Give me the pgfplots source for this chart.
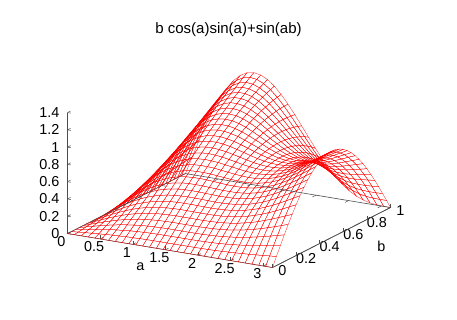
\documentclass[border=0pt]{standalone}
\usepackage{fontspec}
\setmainfont{Liberation Sans}
\usepackage{pgfplots}
\pgfplotsset{compat=1.18}
\begin{document}
\begin{tikzpicture}[x=1pt,y=1pt]
\path[use as bounding box] (47,-7) rectangle +(457,320);
\node[font=\fontsize{15}{16}\selectfont] at (275.5,283) {b cos(a)sin(a)+sin(ab)};
\begin{axis}[at={(29,81)},anchor=south west,
 x={(65.25pt,-10.82pt)},y={(118pt,60pt)},z={(0pt,86.4pt)},
 xmin=0,xmax=3.14159,ymin=0,ymax=1,zmin=0,zmax=1.4,
 clip=false,
 axis x line*=bottom,axis y line*=left,axis z line*=left,
 axis line style={-,black!70!white,line width=0.6pt},
 tick style={black!70!white,line width=0.5pt},
 major tick length=3.5pt,
 xtick={0,0.5,1,1.5,2,2.5,3},
 ytick={0,0.2,0.4,0.6,0.8,1},
 ztick={0,0.2,0.4,0.6,0.8,1,1.2,1.4},
 xticklabels={0,0.5,1,1.5,2,2.5,3},
 yticklabels={0,0.2,0.4,0.6,0.8,1},
 zticklabels={0,0.2,0.4,0.6,0.8,1,1.2,1.4},
 ticklabel style={font=\fontsize{14.4}{16}\selectfont,inner sep=0pt,outer sep=0pt},
 xticklabel style={anchor=center,xshift=-6pt,yshift=-8pt},
 yticklabel style={anchor=center,xshift=10pt,yshift=-3pt},
 zticklabel style={anchor=east,xshift=-8pt},
 xlabel={a},ylabel={b},
 xlabel style={at={(axis cs:1.594,-.263,0)},anchor=center,font=\fontsize{14.4}{16}\selectfont,inner sep=0pt,sloped=false},
 ylabel style={at={(axis cs:3.924,.491,0)},anchor=center,font=\fontsize{14.4}{16}\selectfont,inner sep=0pt,sloped=false},
 /pgf/number format/assume math mode=true,
 colormap={allred}{color=(red) color=(red)},
]
\addplot3[mesh,mesh/rows=31,mesh/cols=31,mesh/ordering=y varies,line width=0.25pt] table {
0 0 0
0 .033 0
0 .067 0
0 .1 0
0 .133 0
0 .167 0
0 .2 0
0 .233 0
0 .267 0
0 .3 0
0 .333 0
0 .367 0
0 .4 0
0 .433 0
0 .467 0
0 .5 0
0 .533 0
0 .567 0
0 .6 0
0 .633 0
0 .667 0
0 .7 0
0 .733 0
0 .767 0
0 .8 0
0 .833 0
0 .867 0
0 .9 0
0 .933 0
0 .967 0
0 1 0
.105 0 0
.105 .033 .007
.105 .067 .014
.105 .1 .021
.105 .133 .028
.105 .167 .035
.105 .2 .042
.105 .233 .049
.105 .267 .056
.105 .3 .063
.105 .333 .069
.105 .367 .076
.105 .4 .083
.105 .433 .09
.105 .467 .097
.105 .5 .104
.105 .533 .111
.105 .567 .118
.105 .6 .125
.105 .633 .132
.105 .667 .139
.105 .7 .146
.105 .733 .153
.105 .767 .16
.105 .8 .167
.105 .833 .174
.105 .867 .181
.105 .9 .188
.105 .933 .195
.105 .967 .201
.105 1 .208
.209 0 0
.209 .033 .014
.209 .067 .028
.209 .1 .041
.209 .133 .055
.209 .167 .069
.209 .2 .083
.209 .233 .096
.209 .267 .11
.209 .3 .124
.209 .333 .138
.209 .367 .151
.209 .4 .165
.209 .433 .179
.209 .467 .193
.209 .5 .206
.209 .533 .22
.209 .567 .234
.209 .6 .247
.209 .633 .261
.209 .667 .275
.209 .7 .289
.209 .733 .302
.209 .767 .316
.209 .8 .33
.209 .833 .343
.209 .867 .357
.209 .9 .37
.209 .933 .384
.209 .967 .398
.209 1 .411
.314 0 0
.314 .033 .02
.314 .067 .04
.314 .1 .061
.314 .133 .081
.314 .167 .101
.314 .2 .122
.314 .233 .142
.314 .267 .162
.314 .3 .182
.314 .333 .202
.314 .367 .223
.314 .4 .243
.314 .433 .263
.314 .467 .283
.314 .5 .303
.314 .533 .323
.314 .567 .344
.314 .6 .364
.314 .633 .384
.314 .667 .404
.314 .7 .424
.314 .733 .444
.314 .767 .464
.314 .8 .484
.314 .833 .504
.314 .867 .524
.314 .9 .544
.314 .933 .563
.314 .967 .583
.314 1 .603
.419 0 0
.419 .033 .026
.419 .067 .053
.419 .1 .079
.419 .133 .105
.419 .167 .132
.419 .2 .158
.419 .233 .184
.419 .267 .211
.419 .3 .237
.419 .333 .263
.419 .367 .289
.419 .4 .315
.419 .433 .342
.419 .467 .368
.419 .5 .394
.419 .533 .42
.419 .567 .446
.419 .6 .472
.419 .633 .498
.419 .667 .523
.419 .7 .549
.419 .733 .575
.419 .767 .601
.419 .8 .626
.419 .833 .652
.419 .867 .677
.419 .9 .703
.419 .933 .728
.419 .967 .753
.419 1 .778
.524 0 0
.524 .033 .032
.524 .067 .064
.524 .1 .096
.524 .133 .128
.524 .167 .159
.524 .2 .191
.524 .233 .223
.524 .267 .255
.524 .3 .286
.524 .333 .318
.524 .367 .35
.524 .4 .381
.524 .433 .413
.524 .467 .444
.524 .5 .475
.524 .533 .507
.524 .567 .538
.524 .6 .569
.524 .633 .6
.524 .667 .631
.524 .7 .661
.524 .733 .692
.524 .767 .723
.524 .8 .753
.524 .833 .783
.524 .867 .814
.524 .9 .844
.524 .933 .874
.524 .967 .903
.524 1 .933
.628 0 0
.628 .033 .037
.628 .067 .074
.628 .1 .11
.628 .133 .147
.628 .167 .184
.628 .2 .22
.628 .233 .257
.628 .267 .294
.628 .3 .33
.628 .333 .366
.628 .367 .403
.628 .4 .439
.628 .433 .475
.628 .467 .511
.628 .5 .547
.628 .533 .583
.628 .567 .618
.628 .6 .653
.628 .633 .689
.628 .667 .724
.628 .7 .759
.628 .733 .793
.628 .767 .828
.628 .8 .862
.628 .833 .896
.628 .867 .93
.628 .9 .964
.628 .933 .997
.628 .967 1.03
.628 1 1.063
.733 0 0
.733 .033 .041
.733 .067 .082
.733 .1 .123
.733 .133 .164
.733 .167 .205
.733 .2 .246
.733 .233 .286
.733 .267 .327
.733 .3 .367
.733 .333 .408
.733 .367 .448
.733 .4 .488
.733 .433 .528
.733 .467 .568
.733 .5 .607
.733 .533 .646
.733 .567 .685
.733 .6 .724
.733 .633 .763
.733 .667 .801
.733 .7 .839
.733 .733 .877
.733 .767 .914
.733 .8 .951
.733 .833 .988
.733 .867 1.024
.733 .9 1.061
.733 .933 1.096
.733 .967 1.132
.733 1 1.166
.838 0 0
.838 .033 .045
.838 .067 .089
.838 .1 .133
.838 .133 .178
.838 .167 .222
.838 .2 .266
.838 .233 .31
.838 .267 .354
.838 .3 .398
.838 .333 .441
.838 .367 .485
.838 .4 .528
.838 .433 .571
.838 .467 .613
.838 .5 .655
.838 .533 .698
.838 .567 .739
.838 .6 .78
.838 .633 .821
.838 .667 .861
.838 .7 .901
.838 .733 .941
.838 .767 .98
.838 .8 1.019
.838 .833 1.057
.838 .867 1.095
.838 .9 1.132
.838 .933 1.169
.838 .967 1.205
.838 1 1.24
.942 0 0
.942 .033 .047
.942 .067 .095
.942 .1 .142
.942 .133 .189
.942 .167 .236
.942 .2 .283
.942 .233 .329
.942 .267 .376
.942 .3 .422
.942 .333 .468
.942 .367 .513
.942 .4 .558
.942 .433 .603
.942 .467 .648
.942 .5 .692
.942 .533 .735
.942 .567 .779
.942 .6 .821
.942 .633 .863
.942 .667 .905
.942 .7 .946
.942 .733 .986
.942 .767 1.026
.942 .8 1.065
.942 .833 1.103
.942 .867 1.141
.942 .9 1.178
.942 .933 1.214
.942 .967 1.25
.942 1 1.285
1.047 0 0
1.047 .033 .049
1.047 .067 .099
1.047 .1 .148
1.047 .133 .197
1.047 .167 .246
1.047 .2 .294
1.047 .233 .343
1.047 .267 .391
1.047 .3 .439
1.047 .333 .486
1.047 .367 .533
1.047 .4 .58
1.047 .433 .626
1.047 .467 .672
1.047 .5 .717
1.047 .533 .761
1.047 .567 .805
1.047 .6 .848
1.047 .633 .89
1.047 .667 .932
1.047 .7 .972
1.047 .733 1.012
1.047 .767 1.051
1.047 .8 1.09
1.047 .833 1.127
1.047 .867 1.163
1.047 .9 1.199
1.047 .933 1.233
1.047 .967 1.267
1.047 1 1.299
1.152 0 0
1.152 .033 .051
1.152 .067 .102
1.152 .1 .152
1.152 .133 .203
1.152 .167 .253
1.152 .2 .303
1.152 .233 .352
1.152 .267 .402
1.152 .3 .45
1.152 .333 .499
1.152 .367 .546
1.152 .4 .593
1.152 .433 .64
1.152 .467 .685
1.152 .5 .73
1.152 .533 .775
1.152 .567 .818
1.152 .6 .86
1.152 .633 .902
1.152 .667 .942
1.152 .7 .982
1.152 .733 1.02
1.152 .767 1.058
1.152 .8 1.094
1.152 .833 1.129
1.152 .867 1.163
1.152 .9 1.195
1.152 .933 1.226
1.152 .967 1.257
1.152 1 1.285
1.257 0 0
1.257 .033 .052
1.257 .067 .103
1.257 .1 .155
1.257 .133 .206
1.257 .167 .257
1.257 .2 .308
1.257 .233 .358
1.257 .267 .407
1.257 .3 .456
1.257 .333 .505
1.257 .367 .552
1.257 .4 .599
1.257 .433 .645
1.257 .467 .691
1.257 .5 .735
1.257 .533 .778
1.257 .567 .82
1.257 .6 .861
1.257 .633 .901
1.257 .667 .939
1.257 .7 .976
1.257 .733 1.012
1.257 .767 1.046
1.257 .8 1.079
1.257 .833 1.111
1.257 .867 1.141
1.257 .9 1.169
1.257 .933 1.196
1.257 .967 1.221
1.257 1 1.245
1.361 0 0
1.361 .033 .052
1.361 .067 .104
1.361 .1 .156
1.361 .133 .208
1.361 .167 .259
1.361 .2 .31
1.361 .233 .36
1.361 .267 .409
1.361 .3 .458
1.361 .333 .506
1.361 .367 .553
1.361 .4 .599
1.361 .433 .644
1.361 .467 .688
1.361 .5 .731
1.361 .533 .772
1.361 .567 .813
1.361 .6 .851
1.361 .633 .888
1.361 .667 .924
1.361 .7 .958
1.361 .733 .99
1.361 .767 1.02
1.361 .8 1.049
1.361 .833 1.076
1.361 .867 1.101
1.361 .9 1.124
1.361 .933 1.145
1.361 .967 1.164
1.361 1 1.182
1.466 0 0
1.466 .033 .052
1.466 .067 .105
1.466 .1 .157
1.466 .133 .208
1.466 .167 .259
1.466 .2 .31
1.466 .233 .36
1.466 .267 .409
1.466 .3 .457
1.466 .333 .504
1.466 .367 .55
1.466 .4 .595
1.466 .433 .639
1.466 .467 .681
1.466 .5 .721
1.466 .533 .76
1.466 .567 .797
1.466 .6 .833
1.466 .633 .867
1.466 .667 .898
1.466 .7 .928
1.466 .733 .956
1.466 .767 .982
1.466 .8 1.005
1.466 .833 1.026
1.466 .867 1.045
1.466 .9 1.062
1.466 .933 1.077
1.466 .967 1.089
1.466 1 1.099
1.571 0 0
1.571 .033 .052
1.571 .067 .105
1.571 .1 .156
1.571 .133 .208
1.571 .167 .259
1.571 .2 .309
1.571 .233 .358
1.571 .267 .407
1.571 .3 .454
1.571 .333 .5
1.571 .367 .545
1.571 .4 .588
1.571 .433 .629
1.571 .467 .669
1.571 .5 .707
1.571 .533 .743
1.571 .567 .777
1.571 .6 .809
1.571 .633 .839
1.571 .667 .866
1.571 .7 .891
1.571 .733 .914
1.571 .767 .934
1.571 .8 .951
1.571 .833 .966
1.571 .867 .978
1.571 .9 .988
1.571 .933 .995
1.571 .967 .999
1.571 1 1
1.676 0 0
1.676 .033 .052
1.676 .067 .105
1.676 .1 .156
1.676 .133 .208
1.676 .167 .258
1.676 .2 .308
1.676 .233 .357
1.676 .267 .404
1.676 .3 .451
1.676 .333 .495
1.676 .367 .538
1.676 .4 .58
1.676 .433 .619
1.676 .467 .656
1.676 .5 .691
1.676 .533 .724
1.676 .567 .754
1.676 .6 .782
1.676 .633 .807
1.676 .667 .83
1.676 .7 .849
1.676 .733 .866
1.676 .767 .88
1.676 .8 .89
1.676 .833 .898
1.676 .867 .903
1.676 .9 .904
1.676 .933 .903
1.676 .967 .898
1.676 1 .891
1.78 0 0
1.78 .033 .053
1.78 .067 .105
1.78 .1 .157
1.78 .133 .208
1.78 .167 .259
1.78 .2 .308
1.78 .233 .356
1.78 .267 .403
1.78 .3 .448
1.78 .333 .491
1.78 .367 .533
1.78 .4 .572
1.78 .433 .609
1.78 .467 .644
1.78 .5 .675
1.78 .533 .705
1.78 .567 .731
1.78 .6 .754
1.78 .633 .775
1.78 .667 .792
1.78 .7 .805
1.78 .733 .816
1.78 .767 .823
1.78 .8 .827
1.78 .833 .827
1.78 .867 .823
1.78 .9 .816
1.78 .933 .806
1.78 .967 .792
1.78 1 .775
1.885 0 0
1.885 .033 .053
1.885 .067 .106
1.885 .1 .158
1.885 .133 .21
1.885 .167 .26
1.885 .2 .309
1.885 .233 .357
1.885 .267 .403
1.885 .3 .448
1.885 .333 .49
1.885 .367 .53
1.885 .4 .567
1.885 .433 .602
1.885 .467 .633
1.885 .5 .662
1.885 .533 .688
1.885 .567 .71
1.885 .6 .729
1.885 .633 .744
1.885 .667 .755
1.885 .7 .763
1.885 .733 .767
1.885 .767 .767
1.885 .8 .763
1.885 .833 .755
1.885 .867 .743
1.885 .9 .728
1.885 .933 .708
1.885 .967 .685
1.885 1 .657
1.99 0 0
1.99 .033 .054
1.99 .067 .108
1.99 .1 .161
1.99 .133 .213
1.99 .167 .264
1.99 .2 .313
1.99 .233 .361
1.99 .267 .407
1.99 .3 .451
1.99 .333 .492
1.99 .367 .53
1.99 .4 .566
1.99 .433 .598
1.99 .467 .627
1.99 .5 .653
1.99 .533 .675
1.99 .567 .693
1.99 .6 .707
1.99 .633 .717
1.99 .667 .723
1.99 .7 .724
1.99 .733 .721
1.99 .767 .714
1.99 .8 .703
1.99 .833 .687
1.99 .867 .666
1.99 .9 .641
1.99 .933 .613
1.99 .967 .579
1.99 1 .542
2.094 0 0
2.094 .033 .055
2.094 .067 .11
2.094 .1 .165
2.094 .133 .218
2.094 .167 .27
2.094 .2 .32
2.094 .233 .369
2.094 .267 .414
2.094 .3 .458
2.094 .333 .499
2.094 .367 .536
2.094 .4 .57
2.094 .433 .6
2.094 .467 .627
2.094 .5 .65
2.094 .533 .668
2.094 .567 .682
2.094 .6 .691
2.094 .633 .696
2.094 .667 .696
2.094 .7 .691
2.094 .733 .682
2.094 .767 .667
2.094 .8 .648
2.094 .833 .624
2.094 .867 .595
2.094 .9 .561
2.094 .933 .523
2.094 .967 .48
2.094 1 .433
2.199 0 0
2.199 .033 .057
2.199 .067 .114
2.199 .1 .171
2.199 .133 .226
2.199 .167 .279
2.199 .2 .331
2.199 .233 .38
2.199 .267 .427
2.199 .3 .47
2.199 .333 .511
2.199 .367 .547
2.199 .4 .58
2.199 .433 .609
2.199 .467 .634
2.199 .5 .653
2.199 .533 .668
2.199 .567 .678
2.199 .6 .683
2.199 .633 .683
2.199 .667 .678
2.199 .7 .667
2.199 .733 .65
2.199 .767 .629
2.199 .8 .602
2.199 .833 .57
2.199 .867 .532
2.199 .9 .49
2.199 .933 .442
2.199 .967 .39
2.199 1 .334
2.304 0 0
2.304 .033 .06
2.304 .067 .12
2.304 .1 .179
2.304 .133 .236
2.304 .167 .292
2.304 .2 .345
2.304 .233 .396
2.304 .267 .444
2.304 .3 .488
2.304 .333 .529
2.304 .367 .566
2.304 .4 .598
2.304 .433 .625
2.304 .467 .648
2.304 .5 .665
2.304 .533 .677
2.304 .567 .683
2.304 .6 .684
2.304 .633 .679
2.304 .667 .668
2.304 .7 .651
2.304 .733 .628
2.304 .767 .6
2.304 .8 .565
2.304 .833 .525
2.304 .867 .48
2.304 .9 .429
2.304 .933 .373
2.304 .967 .312
2.304 1 .246
2.409 0 0
2.409 .033 .064
2.409 .067 .127
2.409 .1 .189
2.409 .133 .249
2.409 .167 .308
2.409 .2 .364
2.409 .233 .417
2.409 .267 .466
2.409 .3 .512
2.409 .333 .554
2.409 .367 .59
2.409 .4 .622
2.409 .433 .649
2.409 .467 .67
2.409 .5 .685
2.409 .533 .694
2.409 .567 .697
2.409 .6 .694
2.409 .633 .684
2.409 .667 .668
2.409 .7 .645
2.409 .733 .616
2.409 .767 .581
2.409 .8 .54
2.409 .833 .492
2.409 .867 .439
2.409 .9 .38
2.409 .933 .315
2.409 .967 .246
2.409 1 .172
2.513 0 0
2.513 .033 .068
2.513 .067 .135
2.513 .1 .201
2.513 .133 .266
2.513 .167 .327
2.513 .2 .387
2.513 .233 .442
2.513 .267 .494
2.513 .3 .542
2.513 .333 .585
2.513 .367 .622
2.513 .4 .654
2.513 .433 .68
2.513 .467 .7
2.513 .5 .713
2.513 .533 .72
2.513 .567 .72
2.513 .6 .713
2.513 .633 .699
2.513 .667 .678
2.513 .7 .649
2.513 .733 .614
2.513 .767 .573
2.513 .8 .524
2.513 .833 .47
2.513 .867 .409
2.513 .9 .343
2.513 .933 .271
2.513 .967 .194
2.513 1 .112
2.618 0 0
2.618 .033 .073
2.618 .067 .145
2.618 .1 .216
2.618 .133 .284
2.618 .167 .35
2.618 .2 .413
2.618 .233 .473
2.618 .267 .527
2.618 .3 .577
2.618 .333 .622
2.618 .367 .66
2.618 .4 .693
2.618 .433 .719
2.618 .467 .738
2.618 .5 .749
2.618 .533 .754
2.618 .567 .751
2.618 .6 .74
2.618 .633 .722
2.618 .667 .696
2.618 .7 .663
2.618 .733 .622
2.618 .767 .574
2.618 .8 .52
2.618 .833 .458
2.618 .867 .391
2.618 .9 .317
2.618 .933 .239
2.618 .967 .155
2.618 1 .067
2.723 0 0
2.723 .033 .078
2.723 .067 .156
2.723 .1 .232
2.723 .133 .306
2.723 .167 .377
2.723 .2 .444
2.723 .233 .507
2.723 .267 .565
2.723 .3 .618
2.723 .333 .664
2.723 .367 .704
2.723 .4 .738
2.723 .433 .764
2.723 .467 .782
2.723 .5 .792
2.723 .533 .795
2.723 .567 .789
2.723 .6 .775
2.723 .633 .753
2.723 .667 .723
2.723 .7 .684
2.723 .733 .638
2.723 .767 .585
2.723 .8 .524
2.723 .833 .456
2.723 .867 .383
2.723 .9 .303
2.723 .933 .218
2.723 .967 .129
2.723 1 .035
2.827 0 0
2.827 .033 .084
2.827 .067 .168
2.827 .1 .25
2.827 .133 .329
2.827 .167 .405
2.827 .2 .477
2.827 .233 .544
2.827 .267 .606
2.827 .3 .662
2.827 .333 .711
2.827 .367 .753
2.827 .4 .787
2.827 .433 .814
2.827 .467 .831
2.827 .5 .841
2.827 .533 .841
2.827 .567 .833
2.827 .6 .816
2.827 .633 .79
2.827 .667 .755
2.827 .7 .712
2.827 .733 .661
2.827 .767 .602
2.827 .8 .535
2.827 .833 .462
2.827 .867 .383
2.827 .9 .298
2.827 .933 .208
2.827 .967 .113
2.827 1 .015
2.932 0 0
2.932 .033 .091
2.932 .067 .181
2.932 .1 .269
2.932 .133 .354
2.932 .167 .436
2.932 .2 .513
2.932 .233 .585
2.932 .267 .65
2.932 .3 .71
2.932 .333 .761
2.932 .367 .805
2.932 .4 .841
2.932 .433 .867
2.932 .467 .885
2.932 .5 .893
2.932 .533 .892
2.932 .567 .881
2.932 .6 .86
2.932 .633 .831
2.932 .667 .792
2.932 .7 .744
2.932 .733 .688
2.932 .767 .623
2.932 .8 .552
2.932 .833 .473
2.932 .867 .389
2.932 .9 .299
2.932 .933 .204
2.932 .967 .106
2.932 1 .005
3.037 0 0
3.037 .033 .098
3.037 .067 .194
3.037 .1 .289
3.037 .133 .38
3.037 .167 .468
3.037 .2 .55
3.037 .233 .627
3.037 .267 .697
3.037 .3 .759
3.037 .333 .813
3.037 .367 .859
3.037 .4 .896
3.037 .433 .923
3.037 .467 .94
3.037 .5 .947
3.037 .533 .943
3.037 .567 .93
3.037 .6 .906
3.037 .633 .873
3.037 .667 .829
3.037 .7 .777
3.037 .733 .716
3.037 .767 .647
3.037 .8 .57
3.037 .833 .487
3.037 .867 .398
3.037 .9 .304
3.037 .933 .205
3.037 .967 .104
3.037 1 .001
3.1416 0 0
3.1416 .033 .105
3.1416 .067 .208
3.1416 .1 .309
3.1416 .133 .407
3.1416 .167 .5
3.1416 .2 .588
3.1416 .233 .669
3.1416 .267 .743
3.1416 .3 .809
3.1416 .333 .866
3.1416 .367 .914
3.1416 .4 .951
3.1416 .433 .978
3.1416 .467 .995
3.1416 .5 1
3.1416 .533 .995
3.1416 .567 .978
3.1416 .6 .951
3.1416 .633 .914
3.1416 .667 .866
3.1416 .7 .809
3.1416 .733 .743
3.1416 .767 .669
3.1416 .8 .588
3.1416 .833 .5
3.1416 .867 .407
3.1416 .9 .309
3.1416 .933 .208
3.1416 .967 .105
3.1416 1 0
};
\addplot3[black!70!white,line width=0.6pt] coordinates {(0,0,0) (0,1,0) (3.1416,1,0) (3.1416,0,0)};
\addplot3[black!70!white,line width=0.5pt,unbounded coords=jump] table {
.5 1 0
.5 .97 0
nan nan nan
1 1 0
1 .97 0
nan nan nan
1.5 1 0
1.5 .97 0
nan nan nan
2 1 0
2 .97 0
nan nan nan
2.5 1 0
2.5 .97 0
nan nan nan
3 1 0
3 .97 0
nan nan nan
0 .2 0
.06 .2 0
nan nan nan
0 .4 0
.06 .4 0
nan nan nan
0 .6 0
.06 .6 0
nan nan nan
0 .8 0
.06 .8 0
};
\end{axis}
\end{tikzpicture}
\end{document}
